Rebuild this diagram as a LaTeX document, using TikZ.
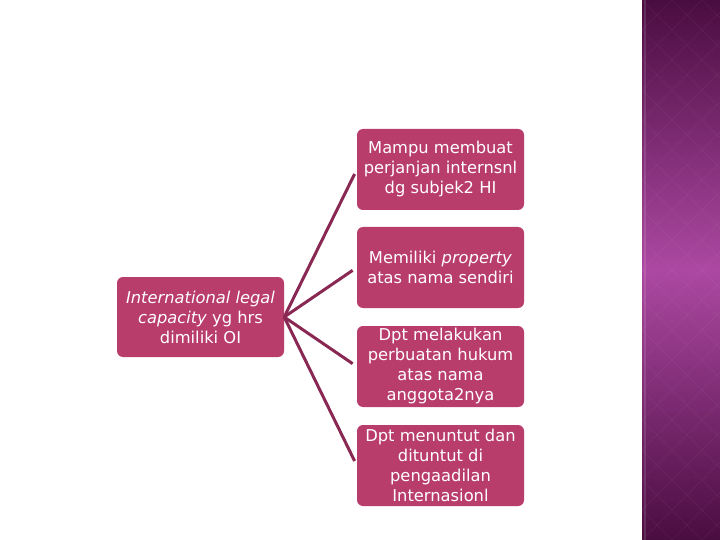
\documentclass[tikz,border=0pt]{standalone}
\usepackage{fontspec}
\setmainfont{DejaVu Sans}
\definecolor{boxpink}{RGB}{185,61,107}
\definecolor{linkplum}{RGB}{138,40,84}
\definecolor{bandtop}{RGB}{74,13,64}
\definecolor{bandmid}{RGB}{172,72,162}
\tikzset{
  itembox/.style={fill=boxpink, rounded corners=6pt, text=white, align=center,
    minimum width=167pt, minimum height=81pt, inner sep=2pt,
    font=\fontsize{16.3}{20}\selectfont},
  link/.style={draw=linkplum, line width=3pt, shorten >=5pt}
}
\begin{document}
\begin{tikzpicture}[x=1pt,y=-1pt]
  \useasboundingbox (0,0) rectangle (720,540);
  \fill[white] (0,0) rectangle (720,540);
  % side band
  \shade[top color=bandtop, bottom color=bandtop, middle color=bandmid] (642,0) rectangle (720,540);
  \begin{scope}
    \clip (642,0) rectangle (720,540);
    \foreach \k in {-600,-570,...,780}
      \draw[white, opacity=0.04, line width=0.8pt] (642,\k) -- ++(120,120) (642,\k) -- ++(120,-120);
  \end{scope}
  \draw[white, opacity=0.12, line width=1.5pt] (645,0) -- (645,540);
  % boxes
  \node[itembox, minimum height=80pt] (cap) at (200.5,317) {\textit{International legal}\\\textit{capacity} yg hrs\\dimiliki OI};
  \node[itembox] (m1) at (440.5,169.5) {Mampu membuat\\perjanjan internsnl\\dg subjek2 HI};
  \node[itembox] (m2) at (440.5,267.5) {Memiliki \textit{property}\\atas nama sendiri};
  \node[itembox] (m3) at (440.5,366.5) {Dpt melakukan\\perbuatan hukum\\atas nama\\anggota2nya};
  \node[itembox] (m4) at (440.5,465.5) {Dpt menuntut dan\\dituntut di\\pengaadilan\\Internasionl};
  % links
  \foreach \m in {m1,m2,m3,m4}
    \draw[link] (cap.east) -- (\m.west);
\end{tikzpicture}
\end{document}
